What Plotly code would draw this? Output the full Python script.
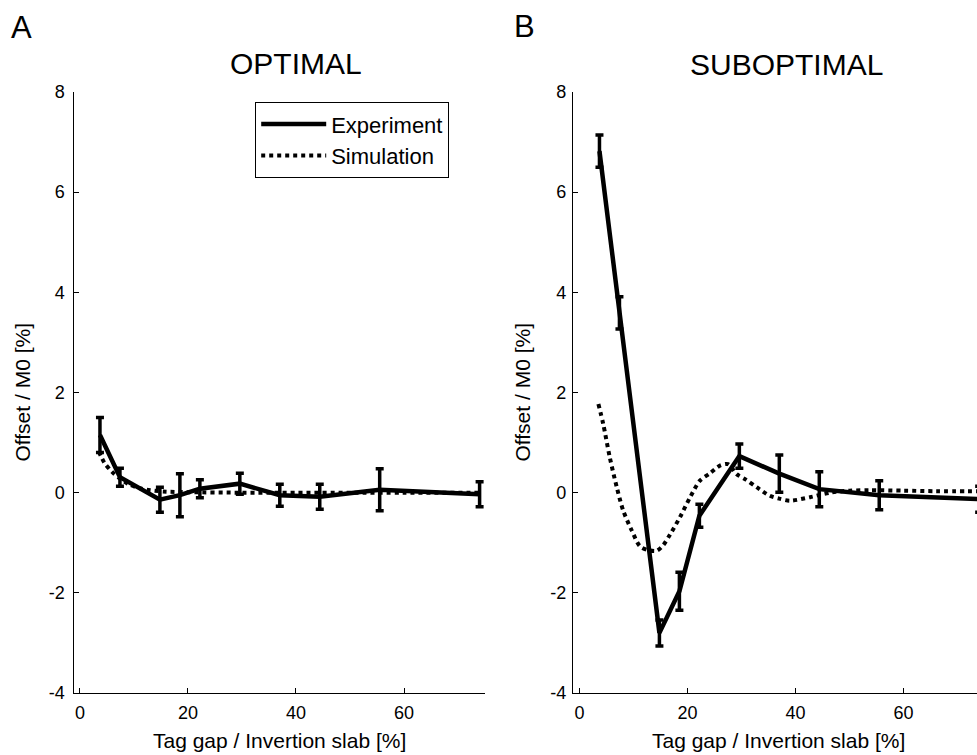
import plotly.graph_objects as go

# ---------------- data ----------------
x_gap = [3.7, 7.4, 14.8, 18.5, 22.2, 29.6, 37.0, 44.4, 55.5, 74.0]

opt_exp = [1.15, 0.31, -0.14, -0.05, 0.08, 0.18, -0.05, -0.08, 0.06, -0.03]
opt_err = [0.35, 0.18, 0.25, 0.43, 0.18, 0.21, 0.22, 0.25, 0.42, 0.25]

sub_exp = [6.82, 3.59, -2.80, -1.97, -0.46, 0.73, 0.38, 0.07, -0.05, -0.13]
sub_err = [0.32, 0.32, 0.26, 0.38, 0.23, 0.24, 0.37, 0.35, 0.29, 0.26]

opt_sim_x = [3.5, 4.5, 5.9, 7.4, 9.0, 11.0, 13.0, 16.0, 20.0, 30.0, 40.0, 50.0, 60.0, 74.0]
opt_sim_y = [0.82, 0.60, 0.42, 0.28, 0.17, 0.09, 0.05, 0.02, 0.01, 0.0, 0.0, 0.0, 0.0, 0.0]

sub_sim_x = [3.5, 4.4, 5.6, 6.9, 8.1, 9.7, 11.2, 12.8, 14.3, 15.5, 16.8, 18.6, 20.5,
             22.3, 24.2, 26.0, 27.5, 29.1, 30.8, 32.8, 35.2, 37.0, 39.0, 42.7, 46.4,
             50.0, 53.8, 60.0, 66.0, 74.0]
sub_sim_y = [1.77, 1.37, 0.71, 0.11, -0.36, -0.76, -1.07, -1.15, -1.16, -1.05, -0.83,
             -0.49, -0.09, 0.24, 0.39, 0.54, 0.57, 0.37, 0.26, 0.11, -0.06, -0.12,
             -0.16, -0.09, 0.0, 0.04, 0.05, 0.04, 0.03, 0.03]

y_ticks = [-4, -2, 0, 2, 4, 6, 8]
y_tick_labels = ["-4", "-2", "0", "2", "4", "6", "8"]
x_ticks = [0, 20, 40, 60]
x_tick_labels = ["0", "20", "40", "60"]

panel_titles = ["OPTIMAL", "SUBOPTIMAL"]
panel_letters = ["A", "B"]
x_title = "Tag gap / Invertion slab [%]"
y_title = "Offset / M0 [%]"
series_names = ["Experiment", "Simulation"]

# ---------------- figure ----------------
W, H = 977, 755
FONT = "Liberation Sans, Arial, Helvetica, sans-serif"


def px(x):
    return x / W


def py(y):
    return 1 - y / H


fig = go.Figure()

panels = [
    ("x", "y", opt_exp, opt_err, opt_sim_x, opt_sim_y, True),
    ("x2", "y2", sub_exp, sub_err, sub_sim_x, sub_sim_y, False),
]
for xa, ya, ey, ee, sx, sy, show in panels:
    fig.add_trace(go.Scatter(
        x=x_gap, y=ey, xaxis=xa, yaxis=ya, mode="lines",
        name=series_names[0], showlegend=show, legendrank=1,
        line=dict(color="black", width=4.5),
        error_y=dict(type="data", array=ee, visible=True, color="black",
                     thickness=3.5, width=4),
    ))
    fig.add_trace(go.Scatter(
        x=sx, y=sy, xaxis=xa, yaxis=ya, mode="lines",
        name=series_names[1], showlegend=show, legendrank=2,
        line=dict(color="black", width=4, dash="dot", shape="spline", smoothing=0.8),
    ))

axis_common = dict(
    showline=True, linecolor="black", linewidth=1.3,
    ticks="inside", ticklen=5, tickwidth=1.2, tickcolor="black",
    showgrid=False, zeroline=False, automargin=False,
    tickfont=dict(family=FONT, size=18, color="black"),
)
x_common = dict(tickvals=x_ticks, ticktext=x_tick_labels, ticklabelstandoff=3, **axis_common)
y_common = dict(domain=[py(693), py(92)], range=[-4, 8], tickvals=y_ticks,
                ticktext=y_tick_labels, **axis_common)

fig.update_layout(
    template="none",
    width=W, height=H, autosize=False,
    margin=dict(l=0, r=0, t=0, b=0, pad=0),
    paper_bgcolor="white", plot_bgcolor="white",
    font=dict(family=FONT, color="black"),
    xaxis=dict(domain=[px(73.5), px(485)], range=[-1.2, 75], anchor="y", **x_common),
    yaxis=dict(anchor="x", ticklabelstandoff=4, **y_common),
    xaxis2=dict(domain=[px(573), 1.0], range=[-1.2, 73.6], anchor="y2", **x_common),
    yaxis2=dict(anchor="x2", ticklabelstandoff=2, **y_common),
    showlegend=True,
    legend=dict(
        x=px(255), y=py(102), xanchor="left", yanchor="top",
        bordercolor="black", borderwidth=1.2, bgcolor="white",
        font=dict(family=FONT, size=22, color="black"),
        itemwidth=65, tracegroupgap=0, entrywidth=200, entrywidthmode="pixels",
    ),
)

annotations = [
    (21.7, 27, panel_letters[0], 31),
    (524, 26, panel_letters[1], 31),
    (296, 63, panel_titles[0], 30),
    (786, 64.5, panel_titles[1], 30),
    (279, 740, x_title, 21),
    (778, 740, x_title, 21),
]
for ax_, ay_, txt, size in annotations:
    fig.add_annotation(x=px(ax_), y=py(ay_), xref="paper", yref="paper", text=txt,
                       showarrow=False, xanchor="center", yanchor="middle",
                       font=dict(family=FONT, size=size, color="black"))

for ax_ in [22, 522]:
    fig.add_annotation(x=px(ax_), y=py(392.5), xref="paper", yref="paper", text=y_title,
                       textangle=-90, showarrow=False, xanchor="center", yanchor="middle",
                       font=dict(family=FONT, size=21, color="black"))

fig.write_html(
    "out.html",
    config={"displayModeBar": False},
    post_script="document.body.style.margin='0';document.body.style.overflow='hidden';",
)
